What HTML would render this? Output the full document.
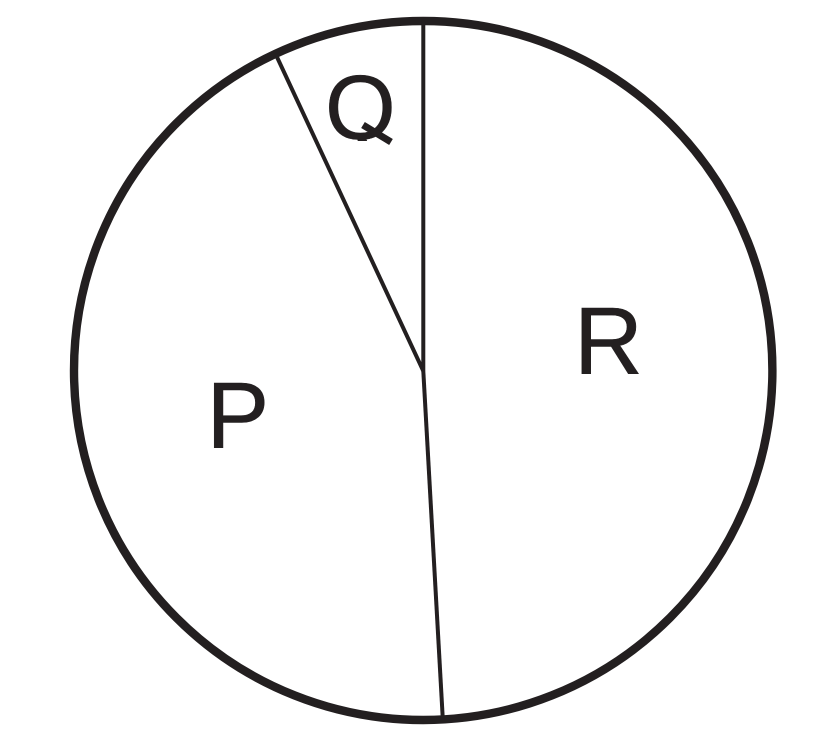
<!DOCTYPE html>
<html>
<head>
<meta charset="utf-8">
<style>
html,body{margin:0;padding:0;background:#fff;width:824px;height:732px;overflow:hidden}
svg{display:block}
text{font-family:"Liberation Sans",sans-serif;fill:#231f20;stroke:#231f20;stroke-width:.5}
</style>
</head>
<body>
<svg width="824" height="732" viewBox="0 0 824 732" xmlns="http://www.w3.org/2000/svg">
<defs>
<clipPath id="qc"><rect x="300" y="50" width="120" height="91"/></clipPath>
</defs>
<ellipse cx="423.2" cy="370.5" rx="349.2" ry="349.5" fill="none" stroke="#231f20" stroke-width="8.4"/>
<polyline points="276.5,56 423.3,371 423.3,21" fill="none" stroke="#231f20" stroke-width="4"/>
<line x1="423.3" y1="371" x2="442.8" y2="719" stroke="#231f20" stroke-width="4"/>
<g clip-path="url(#qc)">
<text x="325" y="139" font-size="91">Q</text>
</g>
<line x1="363" y1="125" x2="391" y2="142" stroke="#231f20" stroke-width="7"/>
<text x="574" y="374" font-size="95.5">R</text>
<text x="206.5" y="447.7" font-size="94">P</text>
</svg>
</body>
</html>
